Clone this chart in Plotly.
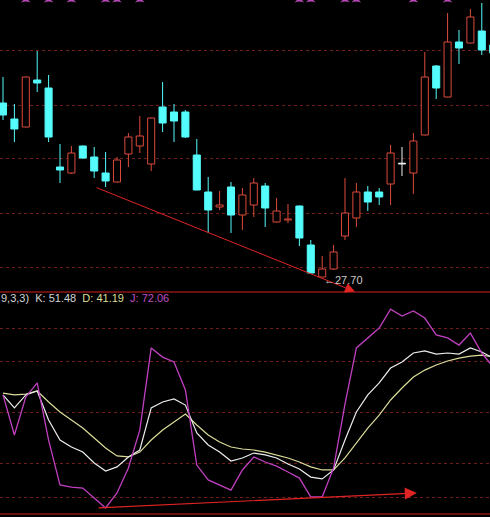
import plotly.graph_objects as go

# ---------------- data ----------------
idx = list(range(44))
opens = [36.40, 35.60, 35.20, 37.55, 37.15, 33.20, 32.90, 34.25, 33.70, 32.90,
         32.45, 33.85, 34.25, 33.35, 36.20, 35.95, 35.95, 33.80, 31.95, 31.20,
         32.20, 30.80, 31.30, 32.25, 30.45, 30.55, 31.25, 29.30, 27.70, 28.10,
         29.75, 30.65, 31.95, 31.95, 32.35, 33.35, 32.90, 34.80, 38.25, 36.70,
         39.45, 39.40, 40.00, 39.30]
highs = [37.70, 36.35, 37.72, 39.00, 37.80, 34.35, 34.25, 34.28, 34.20, 33.95,
         33.70, 34.90, 35.75, 35.67, 37.45, 36.35, 36.05, 34.60, 32.70, 32.00,
         32.45, 32.15, 32.65, 32.40, 31.65, 31.35, 31.28, 29.55, 28.75, 29.30,
         32.65, 32.40, 32.25, 32.15, 34.30, 34.20, 34.90, 38.95, 38.30, 40.90,
         40.05, 41.10, 41.40, 39.55]
lows = [35.55, 34.45, 35.18, 36.95, 34.45, 32.40, 32.85, 33.60, 32.65, 32.20,
        32.43, 33.20, 33.90, 33.00, 34.95, 34.45, 34.65, 32.03, 29.90, 31.05,
        29.90, 30.05, 30.70, 30.20, 30.43, 30.40, 29.25, 27.88, 27.70, 28.05,
        29.55, 30.20, 31.00, 31.30, 31.30, 32.75, 31.85, 34.78, 36.60, 36.68,
        38.35, 39.38, 38.80, 38.65]
closes = [35.80, 35.10, 37.70, 37.40, 34.70, 33.05, 33.90, 33.65, 33.00, 32.50,
          33.55, 34.70, 34.75, 35.65, 35.40, 35.50, 34.70, 32.05, 31.05, 31.30,
          30.80, 31.80, 32.40, 31.15, 31.00, 30.60, 29.65, 27.90, 28.10, 28.95,
          30.90, 31.95, 31.45, 31.70, 33.90, 33.35, 34.50, 37.70, 37.15, 39.45,
          39.15, 40.70, 39.05, 38.90]

K = [60.4, 52.7, 60.4, 62.7, 45.6, 33.7, 29.6, 26.6, 20.1, 15.4,
     17.8, 23.7, 27.8, 52.7, 56.2, 58.0, 54.4, 37.9, 30.8, 26.6,
     21.3, 23.1, 26.0, 24.9, 23.1, 19.5, 16.6, 11.8, 10.7, 16.0,
     33.7, 50.3, 60.4, 67.5, 76.3, 79.9, 85.2, 86.4, 84.6, 85.2,
     84.6, 88.2, 85.8, 82.2]
D = [61.5, 60.4, 60.9, 62.7, 56.2, 50.3, 45.6, 40.8, 34.9, 29.0,
     24.3, 23.7, 26.6, 33.7, 39.6, 44.4, 49.1, 42.6, 36.7, 32.5,
     29.6, 28.4, 27.8, 26.6, 24.9, 23.1, 20.7, 17.8, 16.0, 16.0,
     23.1, 32.0, 40.8, 48.5, 57.4, 64.5, 71.0, 75.1, 78.1, 80.5,
     82.2, 83.4, 84.0, 82.8]
J = [60.4, 36.7, 59.2, 67.5, 33.7, 7.1, 5.9, 5.3, -0.6, -6.5,
     2.4, 17.2, 39.6, 88.2, 82.8, 79.9, 63.3, 18.9, 10.1, 7.1,
     4.1, 16.0, 23.7, 20.7, 18.3, 14.8, 11.2, 0.0, 0.0, 17.2,
     55.0, 88.2, 94.1, 100.0, 111.2, 107.1, 110.1, 105.9, 95.9, 94.1,
     89.9, 97.0, 85.2, 76.9]

signal_idx = [2, 4, 6, 9, 10, 12, 26, 27, 30, 31, 36, 39]
price_grid = [28.2, 30.9, 33.65, 36.3, 39.05]
kdj_grid = [0, 20, 50, 80, 100]
low_value = 27.70
low_index = 28
legend_parts = [("9,3,3)  K: 51.48", "#d4d4d4"), (" D: 41.19", "#dcdc96"), (" J: 72.06", "#c04cc0")]

# ---------------- styles ----------------
RED = "#dc4a3c"
CYAN = "#54fcfc"
WHITE = "#f0f0f0"
GRID = "#6e1c1c"
SEP = "#8c1414"
BODY_W = 0.62

fig = go.Figure()

wick = {RED: ([], []), CYAN: ([], []), WHITE: ([], [])}
bodies = {RED: ([], [], []), CYAN: ([], [], []), WHITE: ([], [], [])}
for i, o, h, l, c in zip(idx, opens, highs, lows, closes):
    if c > o:
        col = RED
    elif c < o:
        col = CYAN
    else:
        col = WHITE
    top, bot = max(o, c), min(o, c)
    xs, ys = wick[col]
    if col == RED:
        xs += [i, i, None, i, i, None]
        ys += [h, top, None, bot, l, None]
    else:
        xs += [i, i, None]
        ys += [h, l, None]
    bx, bb, bh = bodies[col]
    bx.append(i)
    bb.append(bot)
    bh.append(max(top - bot, 0.04))

for col in (RED, CYAN, WHITE):
    bx, bb, bh = bodies[col]
    fig.add_trace(go.Bar(
        x=bx, y=bh, base=bb, width=BODY_W,
        marker=dict(color="black" if col == RED else col,
                    line=dict(color=col, width=1)),
        xaxis="x", yaxis="y", hoverinfo="skip"))
for col in (RED, CYAN, WHITE):
    xs, ys = wick[col]
    fig.add_trace(go.Scatter(x=xs, y=ys, mode="lines",
                             line=dict(color=col, width=1),
                             xaxis="x", yaxis="y", hoverinfo="skip"))

# signal markers at top edge
fig.add_trace(go.Scatter(
    x=signal_idx, y=[41.57] * len(signal_idx), mode="markers",
    marker=dict(symbol="star-triangle-up", size=7, color="#b848b8"),
    xaxis="x", yaxis="y", hoverinfo="skip"))

# KDJ lines
fig.add_trace(go.Scatter(x=idx, y=D, mode="lines", line=dict(color="#dcdc9a", width=1.2),
                         xaxis="x2", yaxis="y2"))
fig.add_trace(go.Scatter(x=idx, y=K, mode="lines", line=dict(color="#ececec", width=1.2),
                         xaxis="x2", yaxis="y2"))
fig.add_trace(go.Scatter(x=idx, y=J, mode="lines", line=dict(color="#c040c0", width=1.3),
                         xaxis="x2", yaxis="y2"))

xr = [-0.263, 42.72]
sep_y = (517 - 292) / 517

fig.update_layout(
    width=490, height=517,
    margin=dict(l=0, r=0, t=0, b=0),
    paper_bgcolor="black", plot_bgcolor="black",
    showlegend=False, barmode="overlay",
    font=dict(family="Liberation Sans, Arial, sans-serif", color="#d4d4d4"),
    xaxis=dict(range=xr, domain=[0, 1], showgrid=False, zeroline=False,
               showticklabels=False, ticks="", anchor="y"),
    yaxis=dict(range=[26.95, 41.55], domain=[sep_y, 1], tickvals=price_grid,
               showgrid=True, gridcolor=GRID, griddash="dot", gridwidth=1,
               zeroline=False, showticklabels=False, ticks=""),
    xaxis2=dict(range=xr, domain=[0, 1], showgrid=False, zeroline=False,
                showticklabels=False, ticks="", anchor="y2"),
    yaxis2=dict(range=[-11.83, 121.3], domain=[0, sep_y], tickvals=kdj_grid,
                showgrid=True, gridcolor=GRID, griddash="dot", gridwidth=1,
                zeroline=False, showticklabels=False, ticks=""),
)

fig.add_shape(type="line", xref="paper", yref="paper", x0=0, x1=1, y0=sep_y, y1=sep_y,
              line=dict(color=SEP, width=1.5))
fig.add_shape(type="line", xref="paper", yref="paper", x0=0, x1=1,
              y0=3 / 517, y1=3 / 517, line=dict(color=SEP, width=1.5))

fig.add_annotation(x=30.88, y=26.97, ax=8.07, ay=32.20, xref="x", yref="y",
                   axref="x", ayref="y", showarrow=True, arrowhead=2, arrowsize=2,
                   arrowwidth=1, arrowcolor="#e02424", text="")
fig.add_annotation(x=36.3, y=2.4, ax=8.25, ay=-6.5, xref="x2", yref="y2",
                   axref="x2", ayref="y2", showarrow=True, arrowhead=2, arrowsize=2,
                   arrowwidth=1.2, arrowcolor="#e02424", text="")

fig.add_annotation(x=low_index, y=low_value - 0.15, xref="x", yref="y",
                   text="←" + f"{low_value:.2f}", showarrow=False,
                   xanchor="left", yanchor="middle",
                   font=dict(size=11, color="#c8c8c8"))

legend_html = " ".join(f"<span style='color:{c}'>{t}</span>" for t, c in legend_parts)
fig.add_annotation(x=0, y=1 - 298 / 517, xref="paper", yref="paper", text=legend_html,
                   showarrow=False, xanchor="left", yanchor="middle", xshift=-1,
                   font=dict(size=11))

fig.write_html("out.html", config={"displayModeBar": False},
               post_script="document.body.style.margin='0';document.body.style.background='black';")
